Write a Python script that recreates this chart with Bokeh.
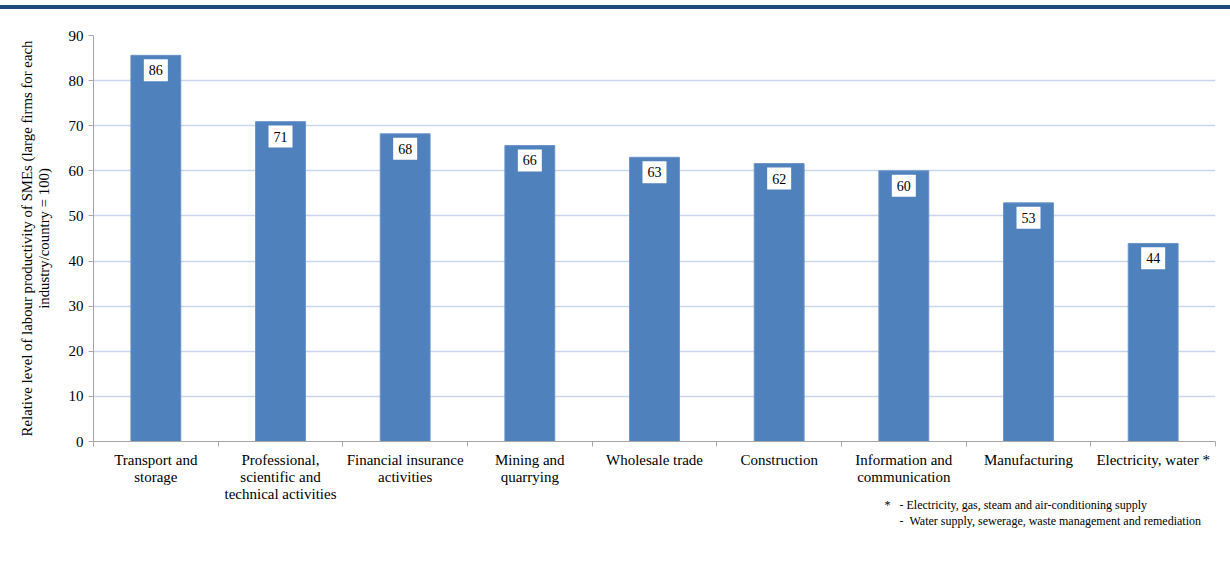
from bokeh.plotting import figure
from bokeh.models import ColumnDataSource, FixedTicker, Range1d, Title, Div
from bokeh.layouts import column
from bokeh.core.properties import value
from bokeh.embed import file_html
from bokeh.resources import INLINE

categories = ["Transport and\nstorage", "Professional,\nscientific and\ntechnical activities",
              "Financial insurance\nactivities", "Mining and\nquarrying", "Wholesale trade",
              "Construction", "Information and\ncommunication", "Manufacturing", "Electricity, water *"]
values = [85.6, 70.9, 68.2, 65.6, 63.0, 61.6, 60.0, 52.9, 43.9]
labels = ["86", "71", "68", "66", "63", "62", "60", "53", "44"]
y_ticks = [0, 10, 20, 30, 40, 50, 60, 70, 80, 90]
NB = "\u00a0"
footnotes = ["*" + NB * 3 + "- Electricity, gas, steam and air-conditioning supply",
             NB * 5 + "-" + NB * 2 + "Water supply, sewerage, waste management and remediation"]

FONT = "Liberation Serif"

xs = [i + 0.5 for i in range(len(categories))]
src = ColumnDataSource(dict(x=xs, top=values, lab=labels,
                            ly=[v - 3.3 for v in values]))

p = figure(width=1230, height=556, output_backend="svg", toolbar_location=None,
           x_range=Range1d(0, len(categories)), y_range=Range1d(0, 90),
           min_border_left=93, min_border_right=15, min_border_top=26, min_border_bottom=124)
p.outline_line_color = None
p.background_fill_color = "white"
p.border_fill_color = "white"

p.vbar(x="x", top="top", width=0.4, source=src, fill_color="#4F81BD", line_color="#6A93C8")
p.rect(x="x", y="ly", width=24, height=22, width_units="screen", height_units="screen",
       source=src, fill_color="white", line_color=None)
p.text(x="x", y="ly", text="lab", source=src, text_align="center", text_baseline="middle",
       text_font=value(FONT), text_font_size="14px", text_color="black")

# y axis
p.yaxis.ticker = FixedTicker(ticks=y_ticks)
p.yaxis.major_label_text_font = FONT
p.yaxis.major_label_text_font_size = "15px"
p.yaxis.major_label_text_color = "black"
p.yaxis.major_tick_in = 0
p.yaxis.major_tick_out = 5
p.yaxis.minor_tick_line_color = None
p.yaxis.axis_line_color = "#A6A6A6"
p.yaxis.major_tick_line_color = "#A6A6A6"
p.yaxis.axis_label = "Relative level of labour productivity of SMEs (large firms for each\nindustry/country = 100)"
p.yaxis.axis_label_text_font = FONT
p.yaxis.axis_label_text_font_size = "14.8px"
p.yaxis.axis_label_text_font_style = "normal"
p.yaxis.axis_label_text_color = "black"
p.yaxis.axis_label_text_line_height = 1.03
p.yaxis.axis_label_standoff = 14

# x axis
p.xaxis.ticker = FixedTicker(ticks=xs, minor_ticks=list(range(len(categories) + 1)))
p.xaxis.major_label_overrides = {x: c for x, c in zip(xs, categories)}
p.xaxis.major_label_text_font = FONT
p.xaxis.major_label_text_font_size = "15px"
p.xaxis.major_label_text_color = "black"
p.xaxis.major_label_text_line_height = 1.07
p.xaxis.major_label_standoff = 5
p.xaxis.major_tick_in = 0
p.xaxis.major_tick_out = 0
p.xaxis.minor_tick_in = 0
p.xaxis.minor_tick_out = 5
p.xaxis.minor_tick_line_color = "#A6A6A6"
p.xaxis.axis_line_color = "#A6A6A6"

p.xgrid.grid_line_color = None
p.ygrid.grid_line_color = "#C9D6EE"
p.ygrid.grid_line_width = 1.3

p.add_layout(Title(text="\n".join(footnotes), align="left", offset=791, text_font=FONT,
                   text_font_size="12px", text_font_style="normal", text_color="black",
                   standoff=-16, text_line_height=1.15), "below")

band = Div(text="", width=1230, height=4, margin=(5, 0, 0, 0),
           styles={"background-color": "#1F4A7C"})

layout = column(band, p, spacing=0)
open("out.html", "w").write(file_html(layout, INLINE))
